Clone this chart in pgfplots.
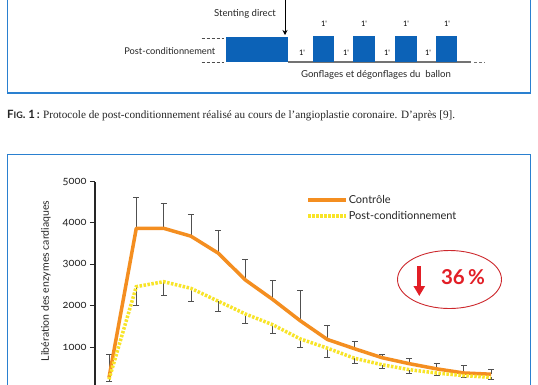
\documentclass[border=0pt]{standalone}
\usepackage{pgfplots}
\pgfplotsset{compat=1.18}
\usepackage{pgfplotstable}
\usepackage{fontspec}
\setmainfont{Liberation Serif}
\newfontfamily\sans{Lato}
\newfontfamily\sansos{Lato}[Numbers=OldStyle]
\usetikzlibrary{arrows.meta}
\definecolor{boxblue}{RGB}{42,128,208}
\definecolor{blockblue}{RGB}{12,98,183}
\definecolor{ctrl}{RGB}{244,142,32}
\definecolor{post}{RGB}{248,228,40}
\definecolor{errg}{RGB}{80,80,80}
\definecolor{redmark}{RGB}{226,30,38}
\definecolor{ellred}{RGB}{205,40,45}

\pgfplotstableread{
x ctrl cerr post perr
0 260 570 220 40
1 3870 750 2460 460
2 3870 610 2580 320
3 3680 515 2420 310
4 3270 560 2110 250
5 2620 500 1800 235
6 2150 455 1540 200
7 1640 720 1200 195
8 1185 330 975 213
9 960 185 730 130
10 745 80 575 80
11 600 125 455 85
12 475 130 375 63
13 375 175 310 42
14 345 115 270 45
}\datatable

\begin{document}
\begin{tikzpicture}[x=1pt,y=1pt]
\useasboundingbox (0,0) rectangle (538,384);
\clip (0,0) rectangle (538,384);
\fill[white] (0,0) rectangle (538,384);
% ---------- diagram / page layer in pixel coordinates ----------
\begin{axis}[at={(0pt,0pt)}, anchor=south west, scale only axis,
  width=538pt, height=384pt, xmin=0, xmax=538, ymin=0, ymax=384,
  y dir=reverse, hide axis, clip=false]
  % frames
  \draw[boxblue, line width=1.4pt] (7.3,-10) rectangle (530.5,93);
  \draw[boxblue, line width=1.4pt] (7.3,154.5) rectangle (530.5,400);
  % arrow stenting
  \draw[black, line width=0.8pt, -{Stealth[length=5pt,width=5pt]}] (285,-10) -- (285,35);
  \node[font=\sans\fontsize{9.6}{10}\selectfont, text=black!85] at (245,14) {Stenting direct};
  % dashed guides
  \draw[black!70, line width=0.6pt, dash pattern=on 3pt off 2pt] (201.5,38.3) -- (224,38.3);
  \draw[black!70, line width=0.6pt, dash pattern=on 3pt off 2pt] (201.5,62.3) -- (224,62.3);
  \draw[black!55, line width=1.1pt] (288,62) -- (471,62);
  \draw[black!55, line width=0.8pt, dash pattern=on 3pt off 2pt] (474,62) -- (485,62);
  % blocks
  \addplot[fill=blockblue, draw=none] coordinates {(226,36.5) (288.3,36.5) (288.3,62.3) (226,62.3)};
  \addplot[fill=blockblue, draw=none] coordinates {(313.3,35.7) (334.3,35.7) (334.3,61.7) (313.3,61.7)};
  \addplot[fill=blockblue, draw=none] coordinates {(353.3,35.7) (375,35.7) (375,61.7) (353.3,61.7)};
  \addplot[fill=blockblue, draw=none] coordinates {(395,35.7) (416.7,35.7) (416.7,61.7) (395,61.7)};
  \addplot[fill=blockblue, draw=none] coordinates {(436,35.7) (457.3,35.7) (457.3,61.7) (436,61.7)};
  \node[font=\sans\fontsize{9.3}{10}\selectfont, text=black!85, anchor=east, inner sep=0pt] at (215.5,51) {Post-conditionnement};
  \pgfplotsinvokeforeach{324,364,406,447}{\node[font=\sans\fontsize{7.5}{8}\selectfont] at (#1,24) {1'};}
  \pgfplotsinvokeforeach{302,346,387,428}{\node[font=\sans\fontsize{7.5}{8}\selectfont] at (#1,53) {1'};}
  \node[font=\sans\fontsize{9.6}{10}\selectfont, text=black!85] at (376,75) {Gonflages et dégonflages du\ \ ballon};
  % caption
  \node[anchor=west, inner sep=0pt, text=black!85] at (7,116) {{\sans\bfseries\fontsize{11.4}{12}\selectfont F\fontsize{9}{10}\selectfont IG\fontsize{11.4}{12}\selectfont. 1\,:} {\fontsize{11.2}{12}\selectfont Protocole de post-conditionnement réalisé au cours de l'angioplastie coronaire. D'après [9].}};
  % 36 % annotation
  \draw[ellred, line width=0.9pt] (449.5,279.5) ellipse [x radius=52, y radius=29];
  \draw[redmark, line width=4.2pt, -{Triangle[length=10pt,width=11pt]}] (419.3,266) -- (419.3,296);
  \node[font=\sans\bfseries\fontsize{20.5}{22}\selectfont, text=redmark] at (463,277.5) {36\,\%};
\end{axis}
% ---------- chart ----------
\begin{axis}[at={(109pt,-4.5pt)}, anchor=origin, scale only axis,
  width=423.4pt, height=207pt,
  xmin=-0.513, xmax=15, ymin=0, ymax=5000,
  axis y line*=left, axis x line=none,
  ytick={1000,2000,3000,4000,5000},
  yticklabels={1000,2000,3000,4000,5000},
  yticklabel style={font=\sansos\fontsize{11}{11}\selectfont, text=black!85},
  tick align=outside, major tick length=5pt,
  tick style={black!85, line width=0.9pt},
  y axis line style={black!85, line width=1.1pt},
  ylabel={Libération des enzymes cardiaques},
  every axis y label/.style={at={(axis cs:-2.309,2597)}, rotate=90, anchor=center, font=\sans\fontsize{10.5}{11}\selectfont, text=black!85},
  legend style={at={(axis cs:7.22,4700)}, anchor=north west, draw=none, fill=none, inner sep=0pt,
    font=\sans\fontsize{11}{12}\selectfont, row sep=4.5pt, nodes={inner sep=1pt, text=black!85}},
  legend cell align=left,
  legend image code/.code={\draw[#1] (0pt,0pt) -- (30pt,0pt); \path (0pt,0pt) -- (38pt,0pt);},
]
\addplot[draw=none, mark=none, forget plot, error bars/.cd, y dir=plus, y explicit,
  error bar style={draw=errg, line width=0.7pt, solid},
  error mark options={draw=errg, line width=0.7pt, mark size=3pt, rotate=90, solid}]
  table[x=x, y=ctrl, y error=cerr] {\datatable};
\addplot[draw=none, mark=none, forget plot, error bars/.cd, y dir=minus, y explicit,
  error bar style={draw=errg, line width=0.7pt, solid},
  error mark options={draw=errg, line width=0.7pt, mark size=3pt, rotate=90, solid}]
  table[x=x, y=post, y error=perr] {\datatable};
\addplot[ctrl, line width=3.5pt, mark=none, line join=round] table[x=x, y=ctrl] {\datatable};
\addlegendentry{Contrôle}
\addplot[post, line width=3.5pt, mark=none, dash pattern=on 2.5pt off 1.5pt] table[x=x, y=post] {\datatable};
\addlegendentry{Post-conditionnement}
\end{axis}
\end{tikzpicture}
\end{document}
